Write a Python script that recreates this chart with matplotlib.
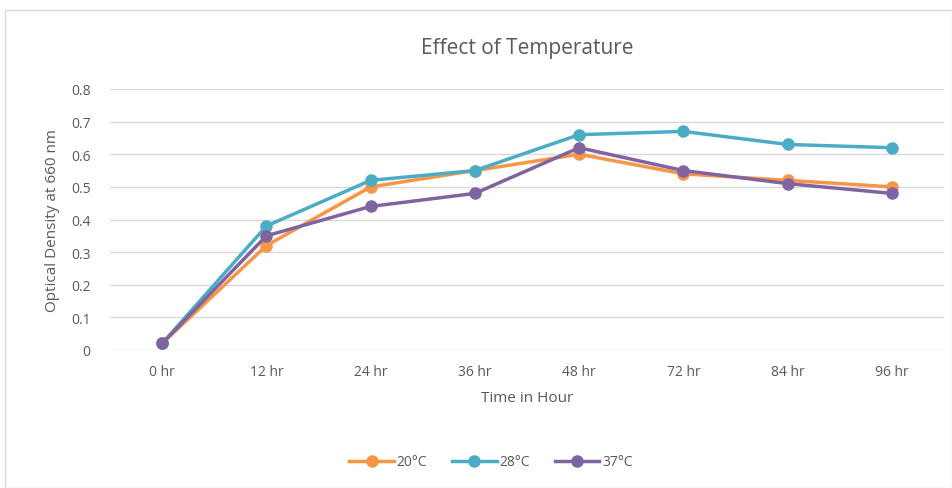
import numpy as np
import matplotlib.pyplot as plt
from matplotlib.patches import Rectangle

# data
time_labels = ["0 hr", "12 hr", "24 hr", "36 hr", "48 hr", "72 hr", "84 hr", "96 hr"]
od_20 = [0.02, 0.32, 0.50, 0.55, 0.60, 0.54, 0.52, 0.50]
od_28 = [0.02, 0.38, 0.52, 0.55, 0.66, 0.67, 0.63, 0.62]
od_37 = [0.02, 0.35, 0.44, 0.48, 0.62, 0.55, 0.51, 0.48]
series_names = ["20°C", "28°C", "37°C"]

plt.rcParams['font.family'] = ['Open Sans', 'DejaVu Sans']
grey = "#595959"

fig = plt.figure(figsize=(9.53, 4.89), dpi=100)
fig.patches.append(Rectangle((5 / 953, 0), 947 / 953, 1 - 11 / 489, transform=fig.transFigure,
                             fill=False, edgecolor="#D9D9D9", linewidth=1))

ax = fig.add_axes([110 / 953, 1 - 351 / 489, 834 / 953, 261 / 489])
x = np.arange(len(time_labels))
colors = ["#F79646", "#4BACC6", "#8064A2"]
for vals, name, c in zip([od_20, od_28, od_37], series_names, colors):
    ax.plot(x, vals, color=c, linewidth=2.5, marker="o", markersize=8, label=name)

ax.set_xlim(-0.5, len(time_labels) - 0.5)
ax.set_ylim(0, 0.8)
ax.set_yticks(np.arange(0, 0.81, 0.1))
ax.set_yticklabels(["0"] + [f"{v:.1f}" for v in np.arange(0.1, 0.81, 0.1)])
ax.set_xticks(x)
ax.set_xticklabels(time_labels)
ax.tick_params(length=0, colors=grey, labelsize=10, pad=10)
ax.tick_params(axis="y", pad=14)
ax.grid(axis="y", color="#D9D9D9", linewidth=1)
ax.set_axisbelow(True)
for s in ax.spines.values():
    s.set_visible(False)

ax.set_title("Effect of Temperature", fontsize=15, color=grey, pad=26)
ax.set_xlabel("Time in Hour", fontsize=11, color=grey, labelpad=8)
ax.set_ylabel("Optical Density at 660 nm", fontsize=11, color=grey, labelpad=8)

fig.legend(loc="center", bbox_to_anchor=(491 / 953, 1 - 463 / 489), ncol=3, frameon=False,
           fontsize=10, labelcolor=grey, handlelength=3.2, columnspacing=1.8, handletextpad=0.2)

fig.savefig("out.png", dpi=100)
